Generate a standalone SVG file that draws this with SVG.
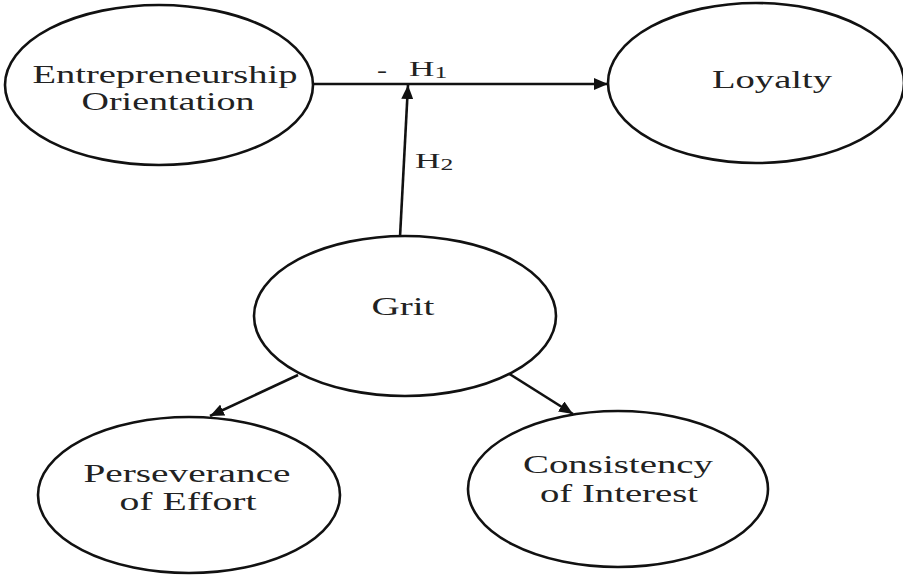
<svg xmlns="http://www.w3.org/2000/svg" width="903" height="575" viewBox="0 0 903 575">
  <style>
    .node { fill: #ffffff; stroke: #111111; stroke-width: 2.6; }
    .lbl { font-family: "Liberation Serif", "Times New Roman", serif; font-size: 26px; fill: #222222; text-anchor: middle; }
    .hyp { font-family: "Liberation Serif", "Times New Roman", serif; font-size: 22px; fill: #222222; }
    .edge { stroke: #111111; stroke-width: 2.6; fill: none; marker-end: url(#arrow); }
  </style>
  <defs>
    <marker id="arrow" markerUnits="userSpaceOnUse" markerWidth="14" markerHeight="12" refX="14" refY="6" orient="auto">
      <path d="M0,0 L14,6 L0,12 Z" fill="#111111"/>
    </marker>
  </defs>

  <rect width="903" height="575" fill="#ffffff"/>

  <g id="connectors">
    <line class="edge" x1="313" y1="84" x2="608" y2="84"/>
    <line class="edge" x1="400" y1="237" x2="408" y2="85"/>
    <line class="edge" x1="298" y1="375" x2="210" y2="416"/>
    <line class="edge" x1="508" y1="373" x2="573" y2="414"/>
  </g>

  <g id="hypotheses">
    <text class="hyp" x="377" y="77" textLength="10" lengthAdjust="spacingAndGlyphs">-</text>
    <g transform="translate(409,76) scale(1.6,1)">
      <text class="hyp" x="0" y="0">H<tspan font-size="16" dy="2">1</tspan></text>
    </g>
    <g transform="translate(415,168) scale(1.6,1)">
      <text class="hyp" x="0" y="0">H<tspan font-size="16" dy="2">2</tspan></text>
    </g>
  </g>

  <g id="entrepreneurship">
    <ellipse class="node" cx="159" cy="85" rx="154" ry="80"/>
    <text class="lbl" x="165" y="83" textLength="265" lengthAdjust="spacingAndGlyphs">Entrepreneurship</text>
    <text class="lbl" x="168" y="110" textLength="173" lengthAdjust="spacingAndGlyphs">Orientation</text>
  </g>

  <g id="loyalty">
    <ellipse class="node" cx="756" cy="83" rx="148" ry="80"/>
    <text class="lbl" x="772" y="88" textLength="120" lengthAdjust="spacingAndGlyphs">Loyalty</text>
  </g>

  <g id="grit">
    <ellipse class="node" cx="405" cy="316" rx="151" ry="80"/>
    <text class="lbl" x="403" y="315" textLength="63" lengthAdjust="spacingAndGlyphs">Grit</text>
  </g>

  <g id="perseverance">
    <ellipse class="node" cx="189" cy="495" rx="151" ry="78"/>
    <text class="lbl" x="187" y="482" textLength="207" lengthAdjust="spacingAndGlyphs">Perseverance</text>
    <text class="lbl" x="188" y="510" textLength="137" lengthAdjust="spacingAndGlyphs">of Effort</text>
  </g>

  <g id="consistency">
    <ellipse class="node" cx="618" cy="489" rx="150" ry="78"/>
    <text class="lbl" x="618" y="473" textLength="190" lengthAdjust="spacingAndGlyphs">Consistency</text>
    <text class="lbl" x="619" y="502" textLength="158" lengthAdjust="spacingAndGlyphs">of Interest</text>
  </g>
</svg>
